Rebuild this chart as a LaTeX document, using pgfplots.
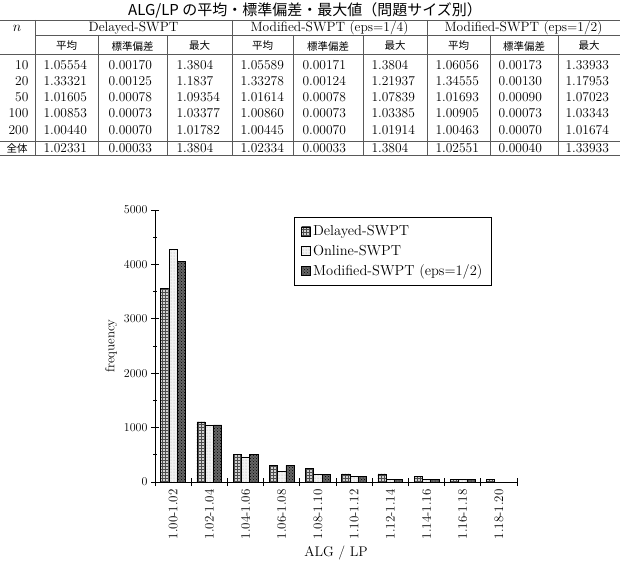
\documentclass[border=0pt]{standalone}
\usepackage{fontspec}
\usepackage{pgfplots}
\pgfplotsset{compat=1.18}
\usetikzlibrary{patterns}
\newfontfamily\cjk{Noto Sans CJK JP}
\newcommand\nf{\fontsize{13.5}{15}\selectfont}
\newcommand\gf{\fontsize{13.5}{15}\selectfont}
\newcommand\hf{\cjk\fontsize{10.5}{12}\selectfont}
\begin{document}
\begin{tikzpicture}[x=1pt,y=1pt]
\useasboundingbox (0,0) rectangle (620,574);
\clip (0,0) rectangle (620,574);
% title
\node[font=\fontsize{15}{17}\selectfont, inner sep=0pt] at (305,563.5) {{\cjk ALG/LP の平均・標準偏差・最大値（問題サイズ別）}};
% table rules
\begin{scope}[draw=black!65, line width=0.7pt]
\draw (0,554) -- (620,554);
\draw (35,539) -- (620,539);
\draw (0,520) -- (620,520);
\draw (0,433) -- (620,433);
\draw (0,419) -- (620,419);
\foreach \x in {35,232,427} \draw (\x,554) -- (\x,419);
\foreach \x in {98,167,293,363,490,558} \draw (\x,539) -- (\x,419);
\end{scope}
% header
\node[font=\gf] at (17,546) {$n$};
\node[font=\gf] at (133.5,546) {Delayed-SWPT};
\node[font=\gf] at (329.5,546) {Modified-SWPT (eps=1/4)};
\node[font=\gf] at (523.5,546) {Modified-SWPT (eps=1/2)};
\foreach \x in {66.5,262.5,458.5} \node[font=\hf] at (\x,528) {平均};
\foreach \x in {132.5,328,524} \node[font=\hf] at (\x,528) {標準偏差};
\foreach \x in {199.5,395,589} \node[font=\hf] at (\x,528) {最大};
% rows
\foreach \n/\yy in {10/509,20/493,50/477,100/461,200/444}
  \node[font=\nf, anchor=east] at (32,\yy) {\n};
\node[font=\hf] at (17,426) {全体};
\foreach \yy/\a/\b/\c/\d/\e/\f/\g/\h/\i in {
 509/1.05554/0.00170/1.3804/1.05589/0.00171/1.3804/1.06056/0.00173/1.33933,
 493/1.33321/0.00125/1.1837/1.33278/0.00124/1.21937/1.34555/0.00130/1.17953,
 477/1.01605/0.00078/1.09354/1.01614/0.00078/1.07839/1.01693/0.00090/1.07023,
 461/1.00853/0.00073/1.03377/1.00860/0.00073/1.03385/1.00905/0.00073/1.03343,
 444/1.00440/0.00070/1.01782/1.00445/0.00070/1.01914/1.00463/0.00070/1.01674,
 426/1.02331/0.00033/1.3804/1.02334/0.00033/1.3804/1.02551/0.00040/1.33933}{
 \node[font=\nf, anchor=west] at (40,\yy) {\a};
 \node[font=\nf, anchor=west] at (105,\yy) {\b};
 \node[font=\nf, anchor=west] at (173,\yy) {\c};
 \node[font=\nf, anchor=west] at (237,\yy) {\d};
 \node[font=\nf, anchor=west] at (299,\yy) {\e};
 \node[font=\nf, anchor=west] at (368,\yy) {\f};
 \node[font=\nf, anchor=west] at (432,\yy) {\g};
 \node[font=\nf, anchor=west] at (495,\yy) {\h};
 \node[font=\nf, anchor=west] at (562,\yy) {\i};
}
% chart
\begin{axis}[
 at={(155pt,92pt)}, anchor=south west, scale only axis,
 width=362pt, height=272pt,
 xmin=0, xmax=10, ymin=0, ymax=5000,
 axis lines=left, axis line style={-, line width=0.9pt},
 ybar=0pt, bar width=0.23,
 xtick={0,...,10}, x tick label as interval,
 xticklabels={1.00-1.02,1.02-1.04,1.04-1.06,1.06-1.08,1.08-1.10,1.10-1.12,1.12-1.14,1.14-1.16,1.16-1.18,1.18-1.20},
 xticklabel style={rotate=90, anchor=east, font=\fontsize{13}{15}\selectfont},
 yticklabel style={font=\fontsize{13}{15}\selectfont},
 ytick={0,1000,...,5000}, minor y tick num=1,
 tick align=center, major tick length=8pt, minor tick length=4pt,
 tick style={black, line width=0.9pt},
 /pgf/number format/1000 sep={},
 scaled y ticks=false,
 xlabel={ALG / LP}, ylabel={frequency},
 xlabel style={font=\fontsize{14}{16}\selectfont},
 ylabel style={font=\fontsize{13}{15}\selectfont},
 legend style={at={(0.931,0.974)}, anchor=north east, draw=black, line width=1.1pt,
   font=\fontsize{14.5}{17}\selectfont, row sep=4pt, inner xsep=7pt, inner ysep=6pt,
   /tikz/every even column/.append style={column sep=5pt}},
 legend cell align=left,
 legend image code/.code={\draw[#1, line width=0.6pt] (0pt,-4.5pt) rectangle (9pt,4.5pt);},
]
\addplot[draw=black, line width=0.6pt, fill=gray!35, postaction={pattern=grid, pattern color=black!70}]
 coordinates {(0.5,3560) (1.5,1105) (2.5,510) (3.5,305) (4.5,255) (5.5,150) (6.5,150) (7.5,100) (8.5,55) (9.5,55)};
\addplot[draw=black, line width=0.6pt, fill=gray!10, postaction={pattern=dots, pattern color=gray!70}]
 coordinates {(0.5,4270) (1.5,1050) (2.5,460) (3.5,200) (4.5,145) (5.5,100) (6.5,55) (7.5,55) (8.5,55) (9.5,0)};
\addplot[draw=black, line width=0.6pt, fill=black!60, postaction={pattern=crosshatch dots, pattern color=black}]
 coordinates {(0.5,4060) (1.5,1050) (2.5,510) (3.5,305) (4.5,145) (5.5,100) (6.5,55) (7.5,55) (8.5,55) (9.5,0)};
\legend{Delayed-SWPT, Online-SWPT, Modified-SWPT (eps=1/2)}
\end{axis}
\end{tikzpicture}
\end{document}
